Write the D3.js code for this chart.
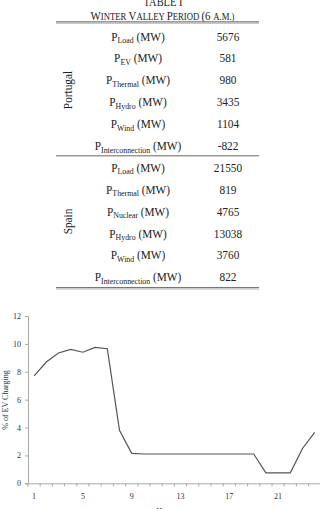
<!DOCTYPE html>
<html><head><meta charset="utf-8">
<script src="https://cdn.jsdelivr.net/npm/d3@7"></script>
<style>body{margin:0;background:#fff}svg{display:block}</style>
</head><body>
<script>
// ---- Table data ----
const tableTitle = "TABLE I";
const portugalSub = ["Load","EV","Thermal","Hydro","Wind","Interconnection"];
const portugalValues = ["5676","581","980","3435","1104","-822"];
const spainSub = ["Load","Thermal","Nuclear","Hydro","Wind","Interconnection"];
const spainValues = ["21550","819","4765","13038","3760","822"];
// ---- Chart data ----
const hours = d3.range(1,25);
const evCharging = [7.7,8.7,9.35,9.6,9.4,9.75,9.65,3.8,2.15,2.1,2.1,2.1,2.1,2.1,2.1,2.1,2.1,2.1,2.1,0.75,0.75,0.75,2.5,3.65];
const yTicks = [0,2,4,6,8,10,12];
const xTickLabels = [1,5,9,13,17,21];

const W=320,H=509;
const svg=d3.select("body").append("svg").attr("width",W).attr("height",H)
  .style("font-family","'Liberation Serif','Times New Roman',serif");

// ---- Table ----
const tl=56,tr=259,labX=138,valX=228,sx=0.87;
svg.append("text").attr("transform",`translate(163,5.5) scale(${sx},1)`).attr("text-anchor","middle")
  .attr("font-size",12).attr("fill","#222").text(tableTitle);
const sub=svg.append("text").attr("transform",`translate(162.5,19.5) scale(${sx},1)`).attr("text-anchor","middle")
  .attr("font-size",12.5).attr("fill","#222");
[["W",1],["INTER ",0],["V",1],["ALLEY ",0],["P",1],["ERIOD ",0],["(6 ",1],["A.M.)",0]].forEach(([t,big])=>{
  sub.append("tspan").attr("font-size",big?12.5:10).text(t);
});
function rule(y,c,w){svg.append("line").attr("x1",tl).attr("x2",tr).attr("y1",y).attr("y2",y).attr("stroke",c).attr("stroke-width",w);}
rule(21.8,"#777",1.2); rule(23.3,"#bbb",1);
rule(155.8,"#999",1.4);
rule(287.6,"#777",1.2); rule(289.1,"#bbb",1);

function section(subs,vals,y0,name,nameY){
  subs.forEach((s,i)=>{
    const y=y0+i*21.9;
    const t=svg.append("text").attr("transform",`translate(${labX},${y+4.5}) scale(${sx},1)`).attr("text-anchor","middle")
      .attr("font-size",13).attr("fill","#222");
    t.append("tspan").text("P");
    t.append("tspan").attr("font-size",9).attr("dy",2.5).text(s);
    t.append("tspan").attr("dy",-2.5).text(" (MW)");
    svg.append("text").attr("transform",`translate(${valX},${y+4.5}) scale(${sx},1)`).attr("text-anchor","middle")
      .attr("font-size",13).attr("fill","#222").text(vals[i]);
  });
  svg.append("text").attr("transform",`translate(72,${nameY}) rotate(-90) scale(${sx},1)`)
    .attr("text-anchor","middle").attr("font-size",13).attr("fill","#222").text(name);
}
section(portugalSub,portugalValues,36,"Portugal",90);
section(spainSub,spainValues,167.3,"Spain",221.5);

// ---- Chart ----
const x=d3.scaleBand().domain(hours).range([28,320.8]);
const y=d3.scaleLinear().domain([0,12]).range([483.3,316]);
const axisCol="#aaa";

const ya=svg.append("g").attr("transform","translate(28,0)")
  .call(d3.axisLeft(y).tickValues(yTicks).tickSize(3).tickPadding(4));
ya.select(".domain").attr("stroke",axisCol);
ya.selectAll(".tick line").attr("stroke",axisCol);
ya.selectAll("text").attr("font-family","'Liberation Serif',serif").attr("font-size",8).attr("fill","#333");

const xa=svg.append("g").attr("transform","translate(0,483.3)")
  .call(d3.axisBottom(x).tickValues(xTickLabels).tickSize(0).tickPadding(10));
xa.select(".domain").attr("stroke",axisCol);
xa.selectAll("text").attr("font-family","'Liberation Serif',serif").attr("font-size",8).attr("fill","#333");
svg.append("g").selectAll("line").data(hours).join("line")
  .attr("x1",d=>x(d)).attr("x2",d=>x(d)).attr("y1",483.3).attr("y2",486.5)
  .attr("stroke",axisCol);

svg.append("path").datum(evCharging)
  .attr("fill","none").attr("stroke","#555").attr("stroke-width",1.2)
  .attr("d",d3.line().x((d,i)=>x(hours[i])+x.bandwidth()/2).y(d=>y(d)));

svg.append("text").attr("transform","translate(8,400) rotate(-90)")
  .attr("text-anchor","middle").attr("font-size",8).attr("fill","#333").text("% of EV Charging");
svg.append("text").attr("x",166).attr("y",514).attr("text-anchor","middle")
  .attr("font-size",8).attr("fill","#333").text("Hours");
</script>
</body></html>
